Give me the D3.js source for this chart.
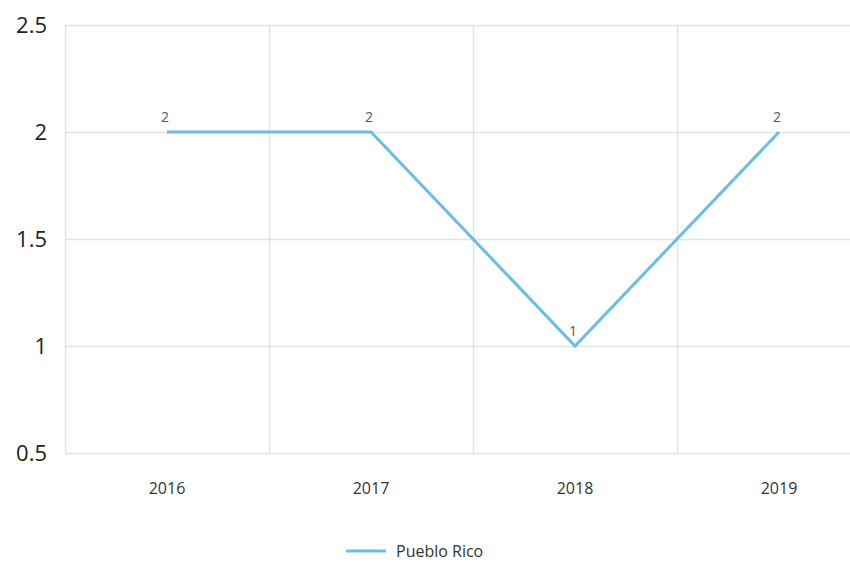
<!DOCTYPE html>
<html>
<head>
<meta charset="utf-8">
<script src="https://cdn.jsdelivr.net/npm/d3@7"></script>
<style>
  body { margin: 0; background: #fff; }
  svg { display: block; font-family: "Open Sans", "Noto Sans", sans-serif; }
</style>
</head>
<body>
<div id="chart"></div>
<script>
const years = ["2016", "2017", "2018", "2019"];
const values = [2, 2, 1, 2];
const yTicks = [0.5, 1, 1.5, 2, 2.5];
const seriesName = "Pueblo Rico";

const width = 850;
const height = 562;
const plotLeft = 65;
const plotTop = 25;
const plotBottom = 453;
const bandW = 204;
const lineColor = "#6cbde2";

const svg = d3.select("#chart")
  .append("svg")
  .attr("width", width)
  .attr("height", height);

const x = d3.scaleBand()
  .domain(years)
  .range([plotLeft, plotLeft + bandW * years.length]);

const y = d3.scaleLinear()
  .domain([0.5, 2.5])
  .range([plotBottom, plotTop]);

// horizontal grid
svg.append("g")
  .selectAll("line")
  .data(yTicks)
  .enter()
  .append("line")
  .attr("x1", plotLeft)
  .attr("x2", plotLeft + bandW * years.length)
  .attr("y1", d => Math.round(y(d)) + 0.5)
  .attr("y2", d => Math.round(y(d)) + 0.5)
  .attr("stroke", "#e3e3e3")
  .attr("stroke-width", 1.5);

// vertical grid (band edges)
svg.append("g")
  .selectAll("line")
  .data(years)
  .enter()
  .append("line")
  .attr("x1", d => Math.round(x(d)) + 0.5)
  .attr("x2", d => Math.round(x(d)) + 0.5)
  .attr("y1", plotTop)
  .attr("y2", plotBottom)
  .attr("stroke", "#e3e3e3")
  .attr("stroke-width", 1.5);

// y labels
svg.append("g")
  .selectAll("text")
  .data(yTicks)
  .enter()
  .append("text")
  .attr("x", 47)
  .attr("y", d => y(d))
  .attr("dy", "0.36em")
  .attr("text-anchor", "end")
  .attr("fill", "#222")
  .style("font-size", "22px")
  .text(d => d);

// x labels
svg.append("g")
  .selectAll("text")
  .data(years)
  .enter()
  .append("text")
  .attr("x", d => x(d) + x.bandwidth() / 2)
  .attr("y", 494)
  .attr("text-anchor", "middle")
  .attr("fill", "#333")
  .style("font-size", "16px")
  .text(d => d);

const line = d3.line()
  .x((d, i) => x(years[i]) + x.bandwidth() / 2)
  .y(d => y(d));

svg.append("path")
  .datum(values)
  .attr("d", line)
  .attr("fill", "none")
  .attr("stroke", lineColor)
  .attr("stroke-width", 3);

// value labels
svg.append("g")
  .selectAll("text")
  .data(values)
  .enter()
  .append("text")
  .attr("x", (d, i) => x(years[i]) + x.bandwidth() / 2 - 2)
  .attr("y", d => y(d) - 10)
  .attr("text-anchor", "middle")
  .attr("fill", "#555")
  .style("font-size", "14px")
  .text(d => d);

// legend
const legend = svg.append("g").attr("transform", "translate(346, 551)");
legend.append("line")
  .attr("x1", 0)
  .attr("x2", 40)
  .attr("stroke", lineColor)
  .attr("stroke-width", 3);
legend.append("text")
  .attr("x", 50)
  .attr("dy", "0.35em")
  .attr("fill", "#333")
  .style("font-size", "16px")
  .text(seriesName);
</script>
</body>
</html>
